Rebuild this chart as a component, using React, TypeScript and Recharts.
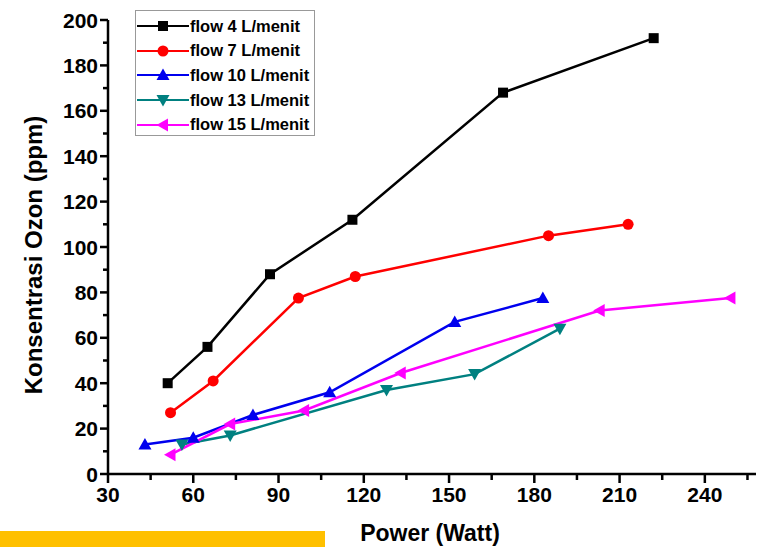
import React from "react";
import { LineChart, Line, XAxis, YAxis, Legend } from "recharts";

// Power (Watt) vs Konsentrasi Ozon (ppm)
const flow4Power = [51, 65, 87, 116, 169, 222];
const flow4Ozon = [40, 56, 88, 112, 168, 192];
const flow7Power = [52, 67, 97, 117, 185, 213];
const flow7Ozon = [27, 41, 77.5, 87, 105, 110];
const flow10Power = [43, 60, 81, 108, 152, 183];
const flow10Ozon = [13, 16, 26, 36, 67, 77.5];
const flow13Power = [56, 73, 128, 159, 189];
const flow13Ozon = [13, 17, 37, 44, 64];
const flow15Power = [52, 73, 99, 133, 203, 249];
const flow15Ozon = [8.5, 22, 28, 44.5, 72, 77.5];

const xTicks = [30, 45, 60, 75, 90, 105, 120, 135, 150, 165, 180, 195, 210, 225, 240, 255];
const xMajorTicks = [30, 60, 90, 120, 150, 180, 210, 240];
const yTicks = [0, 10, 20, 30, 40, 50, 60, 70, 80, 90, 100, 110, 120, 130, 140, 150, 160, 170, 180, 190, 200];
const yMajorTicks = [0, 20, 40, 60, 80, 100, 120, 140, 160, 180, 200];

const FONT = "'Liberation Sans', Arial, sans-serif";

type Shape = "square" | "circle" | "up" | "down" | "left";

const toPoints = (xs: number[], ys: number[]) => xs.map((x, i) => ({ power: x, ozon: ys[i] }));

const series = [
  { name: "flow 4 L/menit", color: "#000000", shape: "square" as Shape, data: toPoints(flow4Power, flow4Ozon) },
  { name: "flow 7 L/menit", color: "#FF0000", shape: "circle" as Shape, data: toPoints(flow7Power, flow7Ozon) },
  { name: "flow 10 L/menit", color: "#0000EE", shape: "up" as Shape, data: toPoints(flow10Power, flow10Ozon) },
  { name: "flow 13 L/menit", color: "#008080", shape: "down" as Shape, data: toPoints(flow13Power, flow13Ozon) },
  { name: "flow 15 L/menit", color: "#FF00FF", shape: "left" as Shape, data: toPoints(flow15Power, flow15Ozon) },
];

const Marker = ({ cx, cy, shape, color }: { cx: number; cy: number; shape: Shape; color: string }) => {
  const s = 6.5;
  switch (shape) {
    case "square":
      return <rect x={cx - 5} y={cy - 5} width={10} height={10} fill={color} />;
    case "circle":
      return <circle cx={cx} cy={cy} r={5.5} fill={color} />;
    case "up":
      return <polygon points={`${cx},${cy - s} ${cx - s},${cy + 5} ${cx + s},${cy + 5}`} fill={color} />;
    case "down":
      return <polygon points={`${cx},${cy + s} ${cx - s},${cy - 5} ${cx + s},${cy - 5}`} fill={color} />;
    default:
      return <polygon points={`${cx - s},${cy} ${cx + 5},${cy - s} ${cx + 5},${cy + s}`} fill={color} />;
  }
};

const makeDot = (shape: Shape, color: string) => (props: any) => (
  <g key={`${shape}-${props.index}`}>
    <Marker cx={props.cx} cy={props.cy} shape={shape} color={color} />
  </g>
);

const XTick = (props: any) => {
  const { x, y, payload } = props;
  const major = xMajorTicks.includes(payload.value);
  return (
    <g>
      <line x1={x} x2={x} y1={y} y2={y + (major ? 9 : 6)} stroke="#000" strokeWidth={2.5} />
      {major && (
        <text x={x} y={y + 28} textAnchor="middle" fontSize={21} fontWeight="bold" fontFamily={FONT} fill="#000">
          {payload.value}
        </text>
      )}
    </g>
  );
};

const YTick = (props: any) => {
  const { x, y, payload } = props;
  const major = yMajorTicks.includes(payload.value);
  return (
    <g>
      <line x1={x} x2={x - (major ? 8 : 5)} y1={y} y2={y} stroke="#000" strokeWidth={2.5} />
      {major && (
        <text x={x - 10} y={y + 7.5} textAnchor="end" fontSize={21} fontWeight="bold" fontFamily={FONT} fill="#000">
          {payload.value}
        </text>
      )}
    </g>
  );
};

const LegendBox = () => (
  <div
    style={{
      width: 180,
      height: 126,
      border: "1px solid #999",
      boxSizing: "border-box",
      paddingTop: 3,
      background: "#fff",
    }}
  >
    {series.map(s => (
      <div key={s.name} style={{ display: "flex", alignItems: "center", height: 24.6 }}>
        <svg width={54} height={16} style={{ flex: "none" }}>
          <line x1={1} x2={53} y1={8} y2={8} stroke={s.color} strokeWidth={2} />
          <Marker cx={27} cy={8} shape={s.shape} color={s.color} />
        </svg>
        <span style={{ fontFamily: FONT, fontWeight: "bold", fontSize: 16.5, color: "#000", whiteSpace: "nowrap" }}>
          {s.name}
        </span>
      </div>
    ))}
  </div>
);

export default function App() {
  return (
    <div style={{ position: "absolute", left: 0, top: 0, width: 759, height: 547, background: "#fff", overflow: "hidden" }}>
      <LineChart width={759} height={547} margin={{ top: 20, right: 3, bottom: 43, left: 48 }}>
        <XAxis
          type="number"
          dataKey="power"
          domain={[30, 258]}
          ticks={xTicks}
          interval={0}
          tickSize={0}
          tickMargin={0}
          tick={<XTick />}
          height={30}
          axisLine={{ stroke: "#000", strokeWidth: 2.5 }}
          allowDataOverflow
        />
        <YAxis
          type="number"
          dataKey="ozon"
          domain={[0, 200]}
          ticks={yTicks}
          interval={0}
          tickSize={0}
          tickMargin={0}
          tick={<YTick />}
          width={60}
          axisLine={{ stroke: "#000", strokeWidth: 2.5 }}
        />
        <Legend
          layout="vertical"
          align="center"
          verticalAlign="middle"
          wrapperStyle={{ left: 135, top: 10, width: 180 }}
          content={<LegendBox />}
        />
        {series.map(s => (
          <Line
            key={s.name}
            data={s.data}
            dataKey="ozon"
            name={s.name}
            type="linear"
            stroke={s.color}
            strokeWidth={2.5}
            dot={makeDot(s.shape, s.color)}
            activeDot={false}
            isAnimationActive={false}
          />
        ))}
      </LineChart>
      <div
        style={{
          position: "absolute",
          left: 430,
          top: 533,
          transform: "translate(-50%, -50%)",
          fontFamily: FONT,
          fontWeight: "bold",
          fontSize: 23,
          whiteSpace: "nowrap",
        }}
      >
        Power (Watt)
      </div>
      <div
        style={{
          position: "absolute",
          left: 34,
          top: 255,
          transform: "translate(-50%, -50%) rotate(-90deg)",
          fontFamily: FONT,
          fontWeight: "bold",
          fontSize: 24,
          whiteSpace: "nowrap",
        }}
      >
        Konsentrasi Ozon (ppm)
      </div>
      <div style={{ position: "absolute", left: 0, top: 531, width: 325, height: 16, background: "#FFC000" }} />
    </div>
  );
}
